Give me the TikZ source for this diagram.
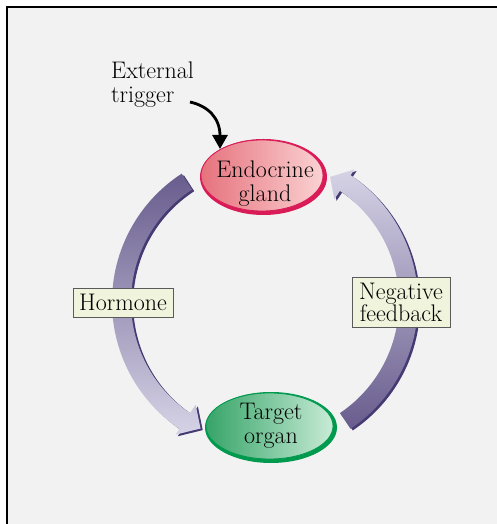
\documentclass[tikz,border=0pt]{standalone}
\usetikzlibrary{arrows.meta,shapes.geometric,shadows}
\definecolor{bg}{HTML}{F2F2F2}
\definecolor{arrdark}{HTML}{685C8D}
\definecolor{arrlight}{HTML}{D6D3E6}
\definecolor{arrshadow}{HTML}{463A72}
\definecolor{glandedge}{HTML}{D91B58}
\definecolor{glandL}{HTML}{E6727D}
\definecolor{glandR}{HTML}{FAD2D2}
\definecolor{organedge}{HTML}{009A4E}
\definecolor{organL}{HTML}{36A468}
\definecolor{organR}{HTML}{C8EBD6}
\definecolor{boxfill}{HTML}{F0F4DC}
\definecolor{boxedge}{HTML}{5A5A5A}
\begin{document}
\begin{tikzpicture}[x=1pt,y=1pt,font=\fontsize{24}{24}\selectfont,
  labelbox/.style={draw=boxedge,fill=boxfill,line width=0.6,inner sep=0,align=center,
    drop shadow={shadow xshift=1.3pt,shadow yshift=-1.3pt,fill=black!75,opacity=1}},
  txt/.style={inner sep=0,align=center,text=black},
  bandshadow/.style={fill=arrshadow,xshift=2.2,yshift=-1.6}]
\useasboundingbox (0,0) rectangle (497,524);
\fill[white] (0,0) rectangle (497,524);
\fill[bg] (6,0) rectangle (497,518);
\draw[line width=2] (7,0) -- (7,516.5) -- (497,516.5);

\coordinate (C) at (265,222);
\def\hormonepath{(123:153) arc[start angle=123,end angle=236,radius=153] -- (236:160) -- (243:142) -- (236:124) -- (236:134) arc[start angle=236,end angle=123,radius=134] -- cycle}
\def\feedbackpath{(-56:153) arc[start angle=-56,end angle=56,radius=153] -- (56:160) -- (62.5:141) -- (56:124) -- (56:134) arc[start angle=56,end angle=-56,radius=134] -- cycle}
\begin{scope}[shift={(C)}]
  \fill[bandshadow] \hormonepath;
  \shade[top color=arrdark,bottom color=arrlight] \hormonepath;
  \fill[bandshadow] \feedbackpath;
  \shade[top color=arrlight,bottom color=arrdark] \feedbackpath;
\end{scope}

% Endocrine gland
\fill[glandedge] (263.5,347) ellipse [x radius=63.5,y radius=38];
\node[ellipse,minimum width=122,minimum height=71,inner sep=0,draw=glandedge,line width=0.8,
  left color=glandL,right color=glandR] (gland) at (262,348.5) {};
\node[txt] (glandtext) at (265,340) {Endocrine\\gland};

% Target organ
\fill[organedge] (271,96.5) ellipse [x radius=66,y radius=35.5];
\node[ellipse,minimum width=127,minimum height=66,inner sep=0,draw=organedge,line width=0.8,
  left color=organL,right color=organR] (organ) at (269.5,98) {};
\node[txt] (organtext) at (271,98.3) {Target\\organ};

% labels
\node[labelbox,minimum width=100,minimum height=29] (hormone) at (123,221.5) {Hormone};
\node[labelbox,minimum width=98,minimum height=50,font=\fontsize{24}{22}\selectfont] (feedback) at (401,222) {Negative\\feedback};

% External trigger
\node[txt,align=left,anchor=west] (trigger) at (111,439) {External\\trigger};
\coordinate (trigstart) at (190,422);
\coordinate (trigend) at (220,375);
\draw[line width=2.8,-{Triangle[length=14,width=15]}] (trigstart) .. controls (208,418) and (220,406) .. (trigend);
\end{tikzpicture}
\end{document}
